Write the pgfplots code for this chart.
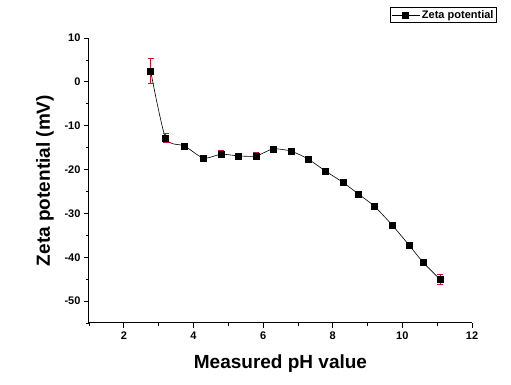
\documentclass[border=0pt]{standalone}
\usepackage{pgfplots}
\pgfplotsset{compat=1.18}
\usepackage{fontspec}
\setmainfont{Liberation Sans}
\definecolor{ebred}{RGB}{200,20,40}
\begin{document}
\begin{tikzpicture}
\path[use as bounding box] (-89pt,-62pt) rectangle (422pt,323pt);
\begin{axis}[
  scale only axis, width=383pt, height=285pt,
  xmin=1, xmax=12, ymin=-55, ymax=10,
  axis x line*=bottom, axis y line*=left,
  axis line style={-, line width=1pt},
  xtick={2,4,...,12}, ytick={-50,-40,...,10},
  minor xtick={1,3,...,11}, minor ytick={-55,-45,...,5},
  tick align=outside, tick style={line width=0.8pt,black},
  major tick length=5pt, minor tick length=3pt,
  tick label style={font=\fontsize{11}{13}\selectfont\bfseries},
  /pgf/number format/assume math mode=true,
  xlabel={\textbf{Measured pH value}},
  ylabel={\textbf{Zeta potential (mV)}},
  label style={font=\fontsize{19}{22}\selectfont},
  xlabel style={yshift=-9pt},
  ylabel style={yshift=4pt},
  legend style={at={(rel axis cs:1.065,1.109)}, anchor=north east, draw=black, line width=0.8pt,
    font=\fontsize{11}{13}\selectfont\bfseries, inner sep=1pt},
  legend cell align=left,
  legend image code/.code={\draw[mark repeat=2,mark phase=2,#1] plot coordinates {(0pt,0pt)(14pt,0pt)(28pt,0pt)};},
]
\addplot[black, line width=0.6pt, smooth, tension=0.4, mark=square*, mark size=3pt,
  mark options={solid, fill=black}]
coordinates {
(2.77,2.5) (3.20,-12.8) (3.74,-14.6) (4.29,-17.4) (4.80,-16.5) (5.29,-16.9)
(5.80,-16.9) (6.29,-15.3) (6.80,-15.8) (7.29,-17.6) (7.80,-20.4) (8.29,-22.9)
(8.74,-25.6) (9.20,-28.4) (9.71,-32.7) (10.20,-37.3) (10.60,-41.2) (11.09,-45.1)
};
\addlegendentry{Zeta potential}
\addplot[draw=none, mark=none, forget plot,
  error bars/.cd, y dir=both, y explicit,
  error bar style={draw=ebred, line width=1pt},
  error mark options={draw=ebred, line width=1pt, mark size=3pt, rotate=90}]
coordinates {
(2.77,2.5) +- (0,2.8)
(3.20,-12.8) +- (0,1.0)
(3.74,-14.6) +- (0,0.5)
(4.29,-17.4) +- (0,0.6)
(4.80,-16.5) +- (0,0.8)
(5.29,-16.9) +- (0,0.6)
(5.80,-16.9) +- (0,0.8)
(6.29,-15.3) +- (0,0.4)
(6.80,-15.8) +- (0,0.5)
(7.29,-17.6) +- (0,0.4)
(7.80,-20.4) +- (0,0.6)
(8.29,-22.9) +- (0,0.4)
(8.74,-25.6) +- (0,0.4)
(9.20,-28.4) +- (0,0.5)
(9.71,-32.7) +- (0,0.5)
(10.20,-37.3) +- (0,0.7)
(10.60,-41.2) +- (0,0.6)
(11.09,-45.1) +- (0,1.1)
};
\end{axis}
\end{tikzpicture}
\end{document}
